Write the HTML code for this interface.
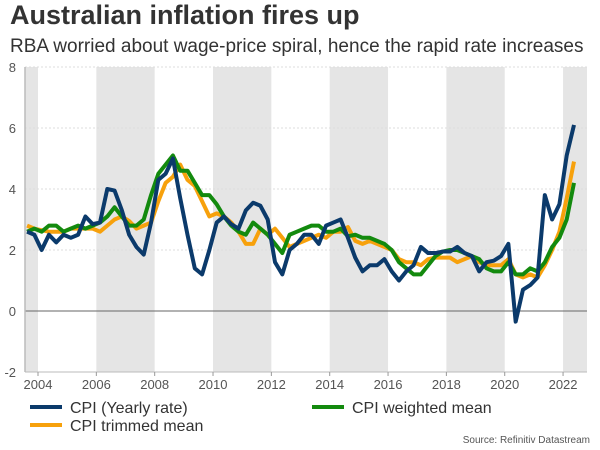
<!DOCTYPE html>
<html><head><meta charset="utf-8"><style>
body{margin:0;width:600px;height:450px;background:#fff;font-family:"Liberation Sans",sans-serif;overflow:hidden;position:relative}
.t{position:absolute;left:10px;top:0px;font-size:27px;font-weight:bold;color:#333}
.s{position:absolute;left:10px;top:36px;font-size:19px;color:#333}
.src{position:absolute;right:10px;top:435px;font-size:10px;color:#555}
</style></head><body>
<div class="t">Australian inflation fires up</div>
<div class="s">RBA worried about wage-price spiral, hence the rapid rate increases</div>
<svg id="c" width="600" height="450" style="position:absolute;left:0;top:0"></svg>
<div class="src">Source: Refinitiv Datastream</div>
<script>
const cpi=[2.6,2.5,2.0,2.5,2.25,2.5,2.4,2.5,3.1,2.85,2.9,4.0,3.95,3.3,2.5,2.1,1.85,2.9,4.3,4.5,5.0,3.7,2.5,1.4,1.2,2.0,2.9,3.1,2.85,2.7,3.3,3.55,3.45,3.0,1.6,1.2,2.0,2.2,2.5,2.5,2.2,2.8,2.9,3.0,2.4,1.75,1.3,1.5,1.5,1.7,1.3,1.0,1.3,1.5,2.1,1.9,1.9,1.95,1.95,2.1,1.9,1.8,1.3,1.6,1.65,1.8,2.2,-0.35,0.7,0.85,1.1,3.8,3.0,3.5,5.1,6.1];
const trimmed=[2.8,2.7,2.65,2.6,2.6,2.6,2.7,2.7,2.7,2.7,2.6,2.8,3.0,3.1,2.95,2.7,2.8,2.9,3.6,4.2,4.4,4.8,4.3,4.1,3.6,3.1,3.2,3.1,2.9,2.6,2.2,2.2,2.7,2.5,2.7,2.4,2.1,2.2,2.3,2.4,2.5,2.4,2.6,2.6,2.75,2.3,2.2,2.3,2.2,2.1,2.0,1.7,1.6,1.6,1.5,1.7,1.75,1.75,1.75,1.6,1.7,1.8,1.6,1.5,1.5,1.5,1.7,1.2,1.1,1.2,1.1,1.5,2.0,2.6,3.7,4.9];
const weighted=[2.6,2.7,2.6,2.8,2.8,2.6,2.7,2.8,2.7,2.8,2.9,3.1,3.4,3.1,2.8,2.8,3.0,3.8,4.5,4.8,5.1,4.6,4.6,4.2,3.8,3.8,3.5,3.1,2.8,2.6,2.5,2.9,2.7,2.5,2.2,1.9,2.5,2.6,2.7,2.8,2.8,2.6,2.6,2.7,2.45,2.5,2.4,2.4,2.3,2.2,2.0,1.6,1.4,1.2,1.2,1.5,1.8,1.95,2.0,2.0,1.9,1.8,1.7,1.4,1.3,1.3,1.6,1.2,1.2,1.4,1.3,1.6,2.1,2.4,3.0,4.2];
const yTicks=[-2,0,2,4,6,8];
const xTicks=[2004,2006,2008,2010,2012,2014,2016,2018,2020,2022];
const startYear=2003.625, step=0.25;
const svg=document.getElementById('c'),NS='http://www.w3.org/2000/svg';
const X=t=>38+(t-2004)*29.17, Y=v=>311-v*30.5;
const L=25,R=587;
function mk(tag,a,p){const e=document.createElementNS(NS,tag);for(const k in a)e.setAttribute(k,a[k]);(p||svg).appendChild(e);return e;}
[[2003,2004],[2006,2008],[2010,2012],[2014,2016],[2018,2020],[2022,2030]].forEach(b=>{
 const x1=Math.max(L,X(b[0])),x2=Math.min(R,X(b[1]));
 const r=mk('rect',{x:x1,y:Y(8),width:x2-x1,height:Y(-2)-Y(8),fill:'#e5e5e5'});
 
 
});
yTicks.forEach(v=>{
 const l=mk('line',{x1:L,x2:R,y1:Y(v),y2:Y(v),stroke:v===0?'#666':'#ddd','stroke-width':1,'stroke-dasharray':v===0?'':'2,2'});
 
 
 const t=mk('text',{x:16,y:Y(v)+5,'text-anchor':'end','font-size':13,fill:'#555'});t.textContent=v;
 
 
});
mk('line',{x1:L,x2:L,y1:Y(8),y2:Y(-2),stroke:'#bbb','stroke-width':1.5});
mk('line',{x1:L,x2:R,y1:Y(-2),y2:Y(-2),stroke:'#bbb','stroke-width':1});
xTicks.forEach(y=>{
 mk('line',{x1:X(y),x2:X(y),y1:Y(-2),y2:Y(-2)+4,stroke:'#999'});
 const t=mk('text',{x:X(y),y:389,'text-anchor':'middle','font-size':13,fill:'#555'});t.textContent=y;
 
 
});
function line(d,col,name){
 const p=mk('polyline',{points:d.map((v,i)=>X(startYear+i*step)+','+Y(v)).join(' '),fill:'none',stroke:col,'stroke-width':4,'stroke-linejoin':'round'});
 
 
}
line(trimmed,'#f7a10c','cpi-trimmed-mean-line');
line(weighted,'#138a0e','cpi-weighted-mean-line');
line(cpi,'#0b3a6b','cpi-yearly-line');
function leg(x,y,col,txt,name){
 const g=mk('g',{});
 
 
 mk('line',{x1:x,x2:x+32,y1:y,y2:y,stroke:col,'stroke-width':4},g);
 const t=mk('text',{x:x+40,y:y+6,'font-size':16,fill:'#333'},g);t.textContent=txt;
}
leg(30,407,'#0b3a6b','CPI (Yearly rate)','legend-cpi-yearly');
leg(30,425,'#f7a10c','CPI trimmed mean','legend-cpi-trimmed');
leg(312,407,'#138a0e','CPI weighted mean','legend-cpi-weighted');
</script>
</body></html>
